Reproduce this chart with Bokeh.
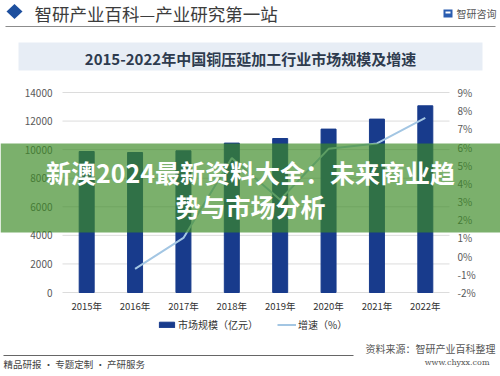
from bokeh.plotting import figure
from bokeh.models import (Range1d, LinearAxis, FixedTicker, PrintfTickFormatter,
                          Legend, LegendItem, Label, BoxAnnotation, PolyAnnotation)
from bokeh.embed import file_html
from bokeh.resources import INLINE

years = ["2015年", "2016年", "2017年", "2018年", "2019年", "2020年", "2021年", "2022年"]
market_size = [9870, 9800, 9920, 10458, 10780, 11438, 12138, 13069]
growth = [None, -0.7, 1.0, 5.4, 3.1, 5.9, 6.2, 7.6]
left_ticks = [0, 2000, 4000, 6000, 8000, 10000, 12000, 14000]
right_ticks = [-2, -1, 0, 1, 2, 3, 4, 5, 6, 7, 8, 9]

FONT = "Noto Sans CJK SC"
BAR = "#183b8c"
LINE = "#a3c6e3"

W, H = 500, 376
# plot-area pixel box (from the top-left of the picture)
PL, PR, PT, PB = 62, 449, 92, 292

n = len(years)
xpos = list(range(n))
ux = (PR - PL) / n                       # px per category
x_start = -0.5 - PL / ux
x_end = n - 0.5 + (W - PR) / ux
L_MIN, L_MAX = left_ticks[0], left_ticks[-1]
R_MIN, R_MAX = right_ticks[0], right_ticks[-1]
ly = (L_MAX - L_MIN) / (PB - PT)
ry = (R_MAX - R_MIN) / (PB - PT)

p = figure(width=W, height=H, x_range=Range1d(x_start, x_end),
           y_range=Range1d(L_MIN - (H - PB) * ly, L_MAX + PT * ly),
           output_backend="svg", toolbar_location=None,
           min_border=0, min_border_left=0, min_border_right=0,
           min_border_top=0, min_border_bottom=0)
p.outline_line_color = None
p.background_fill_color = "white"
p.border_fill_color = "white"
p.extra_y_ranges = {"pct": Range1d(R_MIN - (H - PB) * ry, R_MAX + PT * ry)}
p.xgrid.visible = False
p.ygrid.visible = False

# grid lines across the plot area only
p.segment(x0=[-0.5] * len(left_ticks), x1=[n - 0.5] * len(left_ticks),
          y0=left_ticks, y1=left_ticks, line_color="#dcdcdc", line_width=1)

bars = p.vbar(x=xpos, top=market_size, width=0.31, color=BAR)
gx = [x for x, g in zip(xpos, growth) if g is not None]
gy = [g for g in growth if g is not None]
ln = p.line(x=gx, y=gy, y_range_name="pct", line_color=LINE, line_width=2)

xa = p.xaxis[0]
xa.ticker = FixedTicker(ticks=xpos)
xa.major_label_overrides = {i: y for i, y in zip(xpos, years)}
xa.fixed_location = L_MIN
la = p.yaxis[0]
la.ticker = FixedTicker(ticks=left_ticks)
la.fixed_location = -0.5
ra = LinearAxis(y_range_name="pct", ticker=FixedTicker(ticks=right_ticks),
                formatter=PrintfTickFormatter(format="%d%%"), fixed_location=n - 0.5)
p.add_layout(ra, "right")

for ax in [la, ra, xa]:
    ax.axis_line_color = None
    ax.major_tick_line_color = None
    ax.minor_tick_line_color = None
    ax.major_tick_out = 0
    ax.major_tick_in = 0
    ax.minor_tick_out = 0
    ax.minor_tick_in = 0
    ax.major_label_text_font = FONT
    ax.major_label_text_font_size = "10px"
    ax.major_label_text_color = "#595959"
xa.major_label_text_color = "#333333"
xa.major_label_text_font_size = "9.5px"
xa.major_label_standoff = 6
la.major_label_standoff = 10
ra.major_label_standoff = 8

legend = Legend(items=[LegendItem(label="市场规模（亿元）", renderers=[bars]),
                       LegendItem(label="增速（%）", renderers=[ln])],
                orientation="horizontal", location=(157, 44),
                label_text_font=FONT, label_text_font_size="10px",
                label_text_color="#333333", glyph_width=19, glyph_height=7,
                label_standoff=2, spacing=19, padding=0, margin=0,
                border_line_color=None, background_fill_alpha=0)
p.add_layout(legend, "center")


def sy(y):
    return H - y


def box(l, r, t, b, color, alpha=1.0):
    p.add_layout(BoxAnnotation(left=l, right=r, top=sy(t), bottom=sy(b),
                               left_units="screen", right_units="screen",
                               top_units="screen", bottom_units="screen",
                               fill_color=color, fill_alpha=alpha, line_color=None))


def text(x, y, s, size, color, align="left", style="normal", font=FONT):
    p.add_layout(Label(x=x, y=sy(y), x_units="screen", y_units="screen", text=s,
                       text_font=font, text_font_size=size, text_color=color,
                       text_align=align, text_baseline="middle", text_font_style=style))


# header
p.add_layout(PolyAnnotation(xs=[6, 14, 22, 14], ys=[sy(11), sy(3.5), sy(11), sy(18.5)],
                            xs_units="screen", ys_units="screen", fill_color="#1d4f9e",
                            fill_alpha=1, line_color=None))
text(34, 12.5, "智研产业百科—产业研究第一站", "17.5px", "#3c3c3c")
box(443, 452, 9, 17, "#2a5db0")
box(445, 450, 11, 13, "white")
text(456, 13, "智研咨询", "10px", "#555555")
box(5, 495, 25.5, 26.5, "#8c8c8c")

# title box
box(18, 482, 42, 70, "#e7edf5")
text(250, 58, "2015-2022年中国铜压延加工行业市场规模及增速", "15px", "#2e3b4e",
     align="center", style="bold")

# footer
box(3, 353, 354.5, 355.5, "#666666")
text(495, 348, "资料来源：智研产业百科整理", "10px", "#555555", align="right")
text(489, 362, "www.chyxx.com", "8px", "#555555", align="right", font="DejaVu Serif")
text(3, 363, "精品研报 · 专题定制 · 产研服务", "9.5px", "#444444")

# banner overlay
box(0, 500, 143, 232, "#3d8a26", 0.68)
text(250, 171, "新澳2024最新资料大全：未来商业趋", "25px", "#ffffff", align="center", style="bold")
text(250, 205, "势与市场分析", "25px", "#ffffff", align="center", style="bold")

open("out.html", "w").write(file_html(p, INLINE))
